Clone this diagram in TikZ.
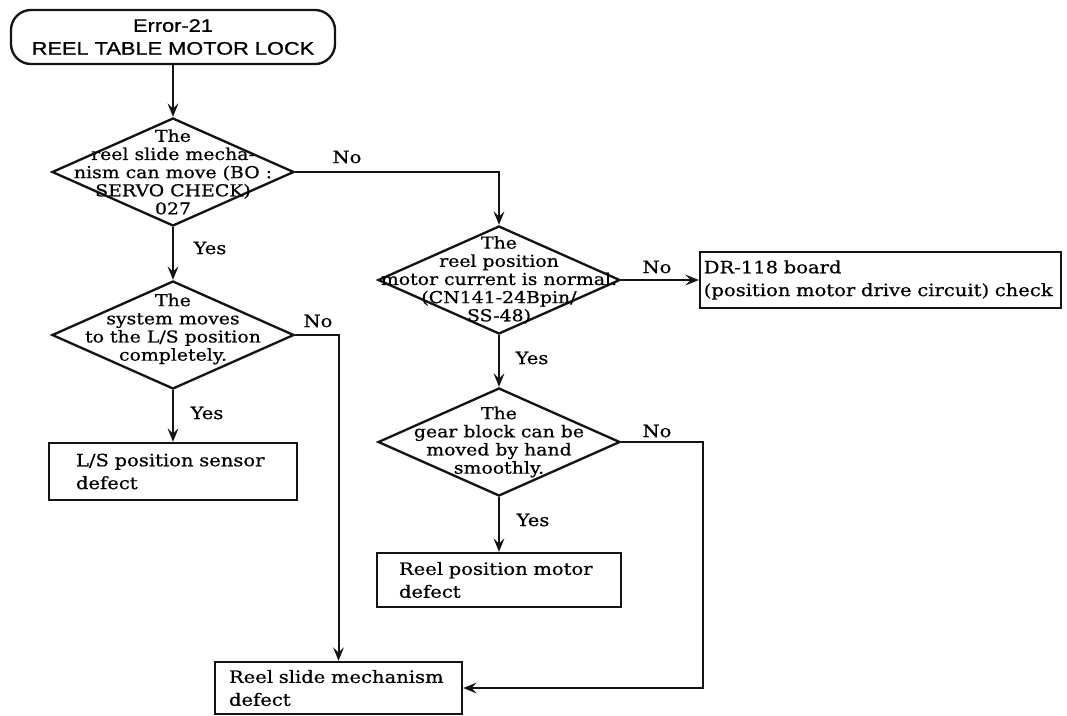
\documentclass[tikz,border=0pt]{standalone}
\usepackage{fontspec}
\setmainfont[FakeStretch=1.15,FakeBold=0.6]{DejaVu Serif}
\newfontfamily\headfont[FakeStretch=1.2,FakeBold=0.8]{Liberation Sans}
\usepackage{tikz}
\usetikzlibrary{arrows.meta,positioning,calc,shapes.geometric}
\definecolor{Ink}{RGB}{20,20,20}
\tikzset{
  terminal/.style={draw=Ink,line width=2pt,rounded corners=6mm,minimum width=97.2mm,minimum height=16.2mm,align=center,font=\headfont\fontsize{15.5}{19.5}\selectfont},
  decision/.style={diamond,draw=Ink,line width=2pt,minimum width=72.6mm,minimum height=32.4mm,inner sep=0pt},
  dtext/.style={align=center,inner sep=0pt,font=\fontsize{14}{15.5}\selectfont},
  act/.style={draw=Ink,line width=2pt,align=left,inner ysep=0pt,font=\fontsize{14.5}{19.5}\selectfont},
  flow/.style={-{Stealth[length=4mm,width=3.2mm,inset=1.5mm]},draw=Ink,line width=1.7pt},
  answer/.style={font=\fontsize{14.5}{16}\selectfont,inner sep=0pt}
}

\begin{document}
\begin{tikzpicture}[x=0.3mm,y=0.3mm]
\useasboundingbox (0,0) rectangle (1067,-715);

\node[terminal] (start) at (173,-37) {Error-21\\REEL TABLE MOTOR LOCK};

\node[decision] (d1) at (173,-172) {};
\node[dtext] (d1t) at (d1) {The\\reel slide mecha-\\nism can move (BO :\\SERVO CHECK)\\027};
\node[decision] (d2) at (173,-335) {};
\node[dtext] (d2t) at ([yshift=1.8mm]d2.center) {The\\system moves\\to the L/S position\\completely.};
\node[decision] (d3) at (499,-280) {};
\node[dtext] (d3t) at (d3) {The\\reel position\\motor current is normal.\\(CN141-24Bpin/\\SS-48)};
\node[decision] (d4) at (499,-442) {};
\node[dtext] (d4t) at (d4) {The\\gear block can be\\moved by hand\\smoothly.};

\node[act,minimum height=17.1mm,inner xsep=8.1mm,text width=58.2mm] (lsdefect) at (173,-471.5) {L/S position sensor\\defect};
\node[act,minimum height=15.6mm,inner xsep=4.2mm,text width=65.7mm] (slidedefect) at (338.5,-688) {Reel slide mechanism\\defect};
\node[act,minimum height=16.2mm,inner xsep=6.6mm,text width=60mm] (posdefect) at (499,-580) {Reel position motor\\defect};
\node[act,minimum height=16.8mm,inner xsep=1.15mm,text width=106mm] (drcheck) at (880.5,-280) {DR-118 board\\(position motor drive circuit) check};

\draw[flow](start)--(d1);\draw[flow](d1)--(d2);\draw[flow](d2)--(lsdefect);\draw[flow](d1.east)-|(d3.north);\draw[flow](d2.east)-|(slidedefect.north);
\draw[flow](d3)--(drcheck);\draw[flow](d3)--(d4);\draw[flow](d4)--(posdefect);\draw[flow](d4.east)--++(82,0)|-(slidedefect.east);

\node[answer] (no1) at (347,-157) {No};
\node[answer] (yes1) at (210,-248) {Yes};
\node[answer] (no2) at (318,-321) {No};
\node[answer] (yes2) at (207,-413) {Yes};
\node[answer] (no3) at (657,-267) {No};
\node[answer] (yes3) at (532,-358) {Yes};
\node[answer] (no4) at (657,-431) {No};
\node[answer] (yes4) at (533,-520) {Yes};
\end{tikzpicture}
\end{document}
